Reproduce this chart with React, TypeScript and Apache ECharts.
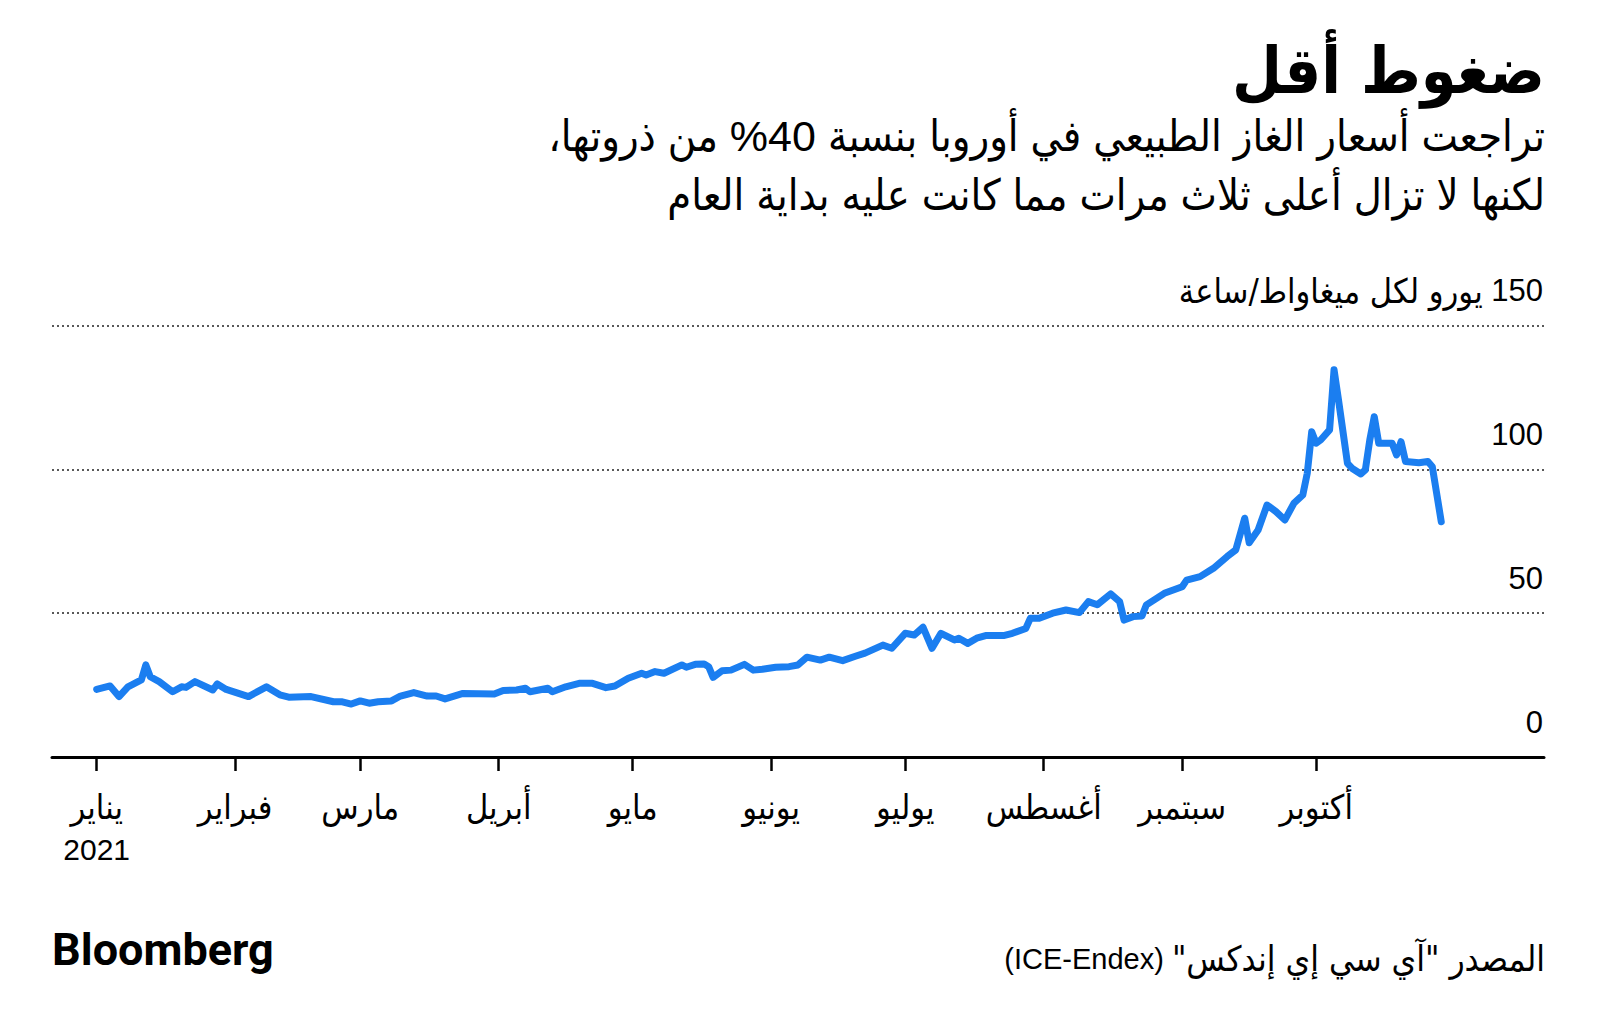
import React, { useEffect, useRef } from "react";
import * as echarts from "echarts";

const TITLE = "ضغوط أقل";
const SUBTITLE_1 = "تراجعت أسعار الغاز الطبيعي في أوروبا بنسبة 40% من ذروتها،";
const SUBTITLE_2 = "لكنها لا تزال أعلى ثلاث مرات مما كانت عليه بداية العام";
const UNIT = "يورو لكل ميغاواط/ساعة";
const SOURCE_AR = "المصدر \"آي سي إي إندكس\"";
const SOURCE_EN = "(ICE-Endex)";
const LOGO = "Bloomberg";

const monthNames = ["يناير", "فبراير", "مارس", "أبريل", "مايو", "يونيو", "يوليو", "أغسطس", "سبتمبر", "أكتوبر"];
const monthTicks = ["2021-01-01", "2021-02-01", "2021-03-01", "2021-04-01", "2021-05-01", "2021-06-01", "2021-07-01", "2021-08-01", "2021-09-01", "2021-10-01"];
const yearLabel = "2021";
const yTicks = [0, 50, 100, 150];
const xRange = ["2020-12-22", "2021-11-21"];

const dates = [
  "2021-01-01", "2021-01-04", "2021-01-06", "2021-01-08", "2021-01-11", "2021-01-12", "2021-01-13", "2021-01-15",
  "2021-01-18", "2021-01-20", "2021-01-21", "2021-01-23", "2021-01-27", "2021-01-28", "2021-01-30",
  "2021-02-04", "2021-02-08", "2021-02-11", "2021-02-13", "2021-02-18", "2021-02-23", "2021-02-25", "2021-02-27",
  "2021-03-01", "2021-03-03", "2021-03-05", "2021-03-08", "2021-03-10", "2021-03-13", "2021-03-16", "2021-03-18",
  "2021-03-20", "2021-03-24", "2021-03-31",
  "2021-04-02", "2021-04-05", "2021-04-07", "2021-04-08", "2021-04-12", "2021-04-13", "2021-04-16", "2021-04-19",
  "2021-04-22", "2021-04-25", "2021-04-27", "2021-04-30",
  "2021-05-03", "2021-05-04", "2021-05-06", "2021-05-08", "2021-05-12", "2021-05-13", "2021-05-15", "2021-05-17",
  "2021-05-18", "2021-05-19", "2021-05-21", "2021-05-23", "2021-05-26", "2021-05-28", "2021-05-30",
  "2021-06-02", "2021-06-05", "2021-06-07", "2021-06-09", "2021-06-12", "2021-06-14", "2021-06-17", "2021-06-20",
  "2021-06-22", "2021-06-26", "2021-06-28",
  "2021-07-01", "2021-07-03", "2021-07-05", "2021-07-07", "2021-07-09", "2021-07-12", "2021-07-13", "2021-07-15",
  "2021-07-17", "2021-07-19", "2021-07-23", "2021-07-25", "2021-07-28", "2021-07-29", "2021-07-31",
  "2021-08-03", "2021-08-06", "2021-08-09", "2021-08-11", "2021-08-13", "2021-08-16", "2021-08-18", "2021-08-19",
  "2021-08-21", "2021-08-23", "2021-08-24", "2021-08-28",
  "2021-09-01", "2021-09-02", "2021-09-05", "2021-09-08", "2021-09-11", "2021-09-13", "2021-09-15", "2021-09-16",
  "2021-09-18", "2021-09-20", "2021-09-22", "2021-09-24", "2021-09-26", "2021-09-28", "2021-09-29", "2021-09-30",
  "2021-10-01", "2021-10-02", "2021-10-04", "2021-10-05", "2021-10-06", "2021-10-08", "2021-10-09", "2021-10-11",
  "2021-10-12", "2021-10-13", "2021-10-14", "2021-10-15", "2021-10-18", "2021-10-19", "2021-10-20", "2021-10-21",
  "2021-10-24", "2021-10-26", "2021-10-27", "2021-10-29",
];

const prices = [
  23.5, 24.7, 21.0, 24.4, 26.8, 32.0, 27.9, 26.2,
  22.7, 24.4, 24.2, 26.2, 23.3, 25.4, 23.5,
  21.0, 24.4, 21.6, 20.8, 21.0, 19.2, 19.2, 18.4,
  19.5, 18.7, 19.2, 19.5, 21.2, 22.4, 21.2, 21.2,
  20.2, 22.1, 21.9,
  23.1, 23.3, 23.9, 22.7, 23.9, 22.7, 24.4, 25.6,
  25.6, 24.1, 24.7, 27.4,
  29.1, 28.5, 29.7, 29.1, 32.0, 31.2, 32.2, 32.3,
  31.4, 27.7, 30.0, 30.2, 32.2, 30.2, 30.5,
  31.2, 31.4, 32.0, 34.7, 33.7, 34.7, 33.5, 35.1,
  36.1, 38.9, 37.8,
  43.0, 42.4, 45.1, 37.8, 43.0, 40.7, 41.3, 39.5,
  41.3, 42.2, 42.2, 43.0, 44.7, 48.2, 48.2,
  50.0, 51.1, 50.2, 54.0, 52.9, 56.7, 54.0, 47.6,
  48.8, 49.0, 52.9, 56.9,
  59.2, 61.5, 62.7, 65.6, 69.6, 72.0, 83.0, 74.5,
  78.9, 87.6, 85.3, 82.4, 88.2, 91.1, 98.6, 113.1,
  109.1, 110.2, 113.7, 134.6, 124.1, 102.1, 100.4, 98.4,
  99.8, 110.2, 118.3, 109.1, 109.1, 105.0, 109.6, 102.7,
  102.3, 102.7, 100.9, 81.8,
];

const DAY = 86400000;
const ORIGIN = Date.UTC(2021, 0, 1);
const dayOf = (s: string) => {
  const [y, m, d] = s.split("-").map(Number);
  return Math.round((Date.UTC(y, m - 1, d) - ORIGIN) / DAY);
};

const RLE = "\u202B";
const PDF = "\u202C";
const AR_FONT = "'DejaVu Sans Condensed', 'DejaVu Sans', sans-serif";
const MIX_FONT = "'Liberation Sans', 'DejaVu Sans Condensed', 'DejaVu Sans', sans-serif";
const NUM_FONT = "'Liberation Sans', Arial, sans-serif";

export default function App() {
  const ref = useRef<HTMLDivElement>(null);

  useEffect(() => {
    if (!ref.current) return;
    const chart = echarts.init(ref.current, undefined, { renderer: "svg" });
    const tickDays = monthTicks.map(dayOf);

    chart.setOption({
      animation: false,
      backgroundColor: "#ffffff",
      grid: { left: 52, right: 56, top: 325.5, bottom: 271, containLabel: false },
      xAxis: {
        type: "value",
        min: dayOf(xRange[0]),
        max: dayOf(xRange[1]),
        axisLine: { show: true, onZero: false, lineStyle: { color: "#000", width: 3 } },
        axisTick: {
          show: true,
          customValues: tickDays,
          length: 14,
          lineStyle: { color: "#000", width: 2.5 },
        },
        axisLabel: {
          show: true,
          customValues: tickDays,
          margin: 28,
          color: "#000",
          lineHeight: 43,
          formatter: (value: number) => {
            const idx = tickDays.indexOf(Math.round(value));
            if (idx < 0) return "";
            return idx === 0
              ? "{m|" + monthNames[0] + "}\n{y|" + yearLabel + "}"
              : "{m|" + monthNames[idx] + "}";
          },
          rich: {
            m: { fontSize: 34, fontFamily: AR_FONT, color: "#000", lineHeight: 43 },
            y: { fontSize: 30, fontFamily: NUM_FONT, color: "#000", lineHeight: 43 },
          },
        },
        splitLine: { show: false },
      },
      yAxis: {
        type: "value",
        position: "right",
        min: yTicks[0],
        max: yTicks[yTicks.length - 1],
        interval: 50,
        axisLine: { show: false },
        axisTick: { show: false },
        axisLabel: {
          inside: true,
          margin: 1,
          align: "right",
          verticalAlign: "bottom",
          padding: [0, 0, 18, 0],
          color: "#000",
          formatter: (v: number) =>
            v === yTicks[yTicks.length - 1] ? "{a|" + UNIT + "}{s| }{n|" + v + "}" : "{n|" + v + "}",
          rich: {
            n: { fontSize: 31, fontFamily: NUM_FONT, color: "#000", lineHeight: 34 },
            s: { fontSize: 31, fontFamily: NUM_FONT, color: "#000", lineHeight: 34 },
            a: { fontSize: 34, fontFamily: AR_FONT, color: "#000", lineHeight: 34 },
          },
        },
        splitLine: {
          show: true,
          lineStyle: { color: "#222", width: 1.5, type: [2, 3] },
        },
      },
      series: [
        {
          type: "line",
          data: dates.map((d, i) => [dayOf(d), prices[i]]),
          showSymbol: false,
          symbol: "none",
          lineStyle: { color: "#1b7ef0", width: 7, cap: "round", join: "round" },
          z: 5,
        },
      ],
      graphic: [
        {
          type: "text",
          x: 1545,
          y: 71,
          style: {
            text: TITLE,
            fontSize: 64,
            fontWeight: "bold",
            fontFamily: AR_FONT,
            fill: "#000",
            align: "right",
            verticalAlign: "middle",
          },
        },
        {
          type: "text",
          x: 1545,
          y: 136,
          style: {
            text: RLE + SUBTITLE_1 + PDF,
            fontSize: 43,
            fontFamily: MIX_FONT,
            fill: "#000",
            align: "right",
            verticalAlign: "middle",
          },
        },
        {
          type: "text",
          x: 1545,
          y: 195,
          style: {
            text: RLE + SUBTITLE_2 + PDF,
            fontSize: 43,
            fontFamily: MIX_FONT,
            fill: "#000",
            align: "right",
            verticalAlign: "middle",
          },
        },
        {
          type: "text",
          x: 52,
          y: 949,
          style: {
            text: LOGO,
            fontSize: 45,
            fontWeight: "bold",
            fontFamily: "Roboto, 'Liberation Sans', sans-serif",
            fill: "#000",
            align: "left",
            verticalAlign: "middle",
          },
        },
        {
          type: "text",
          x: 1545,
          y: 959,
          style: {
            text: "{l|" + SOURCE_EN + "}{s| }{a|" + RLE + SOURCE_AR + PDF + "}",
            fill: "#000",
            align: "right",
            verticalAlign: "middle",
            rich: {
              l: { fontSize: 29, fontFamily: NUM_FONT, fill: "#000", lineHeight: 40 },
              s: { fontSize: 29, fontFamily: NUM_FONT, fill: "#000", lineHeight: 40 },
              a: { fontSize: 35, fontFamily: AR_FONT, fill: "#000", lineHeight: 40 },
            },
          },
        },
      ],
    });

    return () => chart.dispose();
  }, []);

  return (
    <div
      ref={ref}
      style={{ position: "absolute", left: 0, top: 0, width: 1600, height: 1028, background: "#fff" }}
    />
  );
}
